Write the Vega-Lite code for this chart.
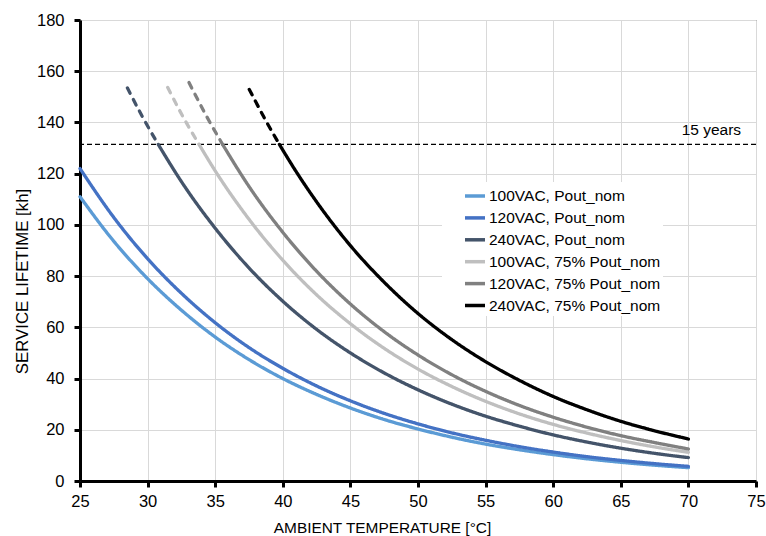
{
  "$schema": "https://vega.github.io/schema/vega-lite/v6.json",
  "width": 676,
  "height": 461,
  "autosize": {"type": "none"},
  "padding": {"left": 80, "top": 20, "right": 10, "bottom": 55},
  "background": "white",
  "config": {
    "font": "Liberation Sans",
    "view": {"stroke": "#404040", "strokeWidth": 1},
    "axis": {
      "domainColor": "black",
      "domainWidth": 3,
      "tickColor": "black",
      "tickWidth": 3,
      "tickSize": 6,
      "labelFlush": false,
      "labelFont": "Liberation Sans",
      "labelFontSize": 16.5,
      "labelColor": "black",
      "gridColor": "#d9d9d9",
      "gridWidth": 1,
      "titleFont": "Liberation Sans",
      "titleFontWeight": "normal",
      "titleColor": "black"
    }
  },
  "datasets": {
    "curves": [
      {"s": "100VAC, Pout_nom", "p": "solid", "t": 25, "v": 111},
      {"s": "100VAC, Pout_nom", "p": "solid", "t": 27.5, "v": 93.6},
      {"s": "100VAC, Pout_nom", "p": "solid", "t": 30, "v": 79.0},
      {"s": "100VAC, Pout_nom", "p": "solid", "t": 32.5, "v": 66.7},
      {"s": "100VAC, Pout_nom", "p": "solid", "t": 35, "v": 56.2},
      {"s": "100VAC, Pout_nom", "p": "solid", "t": 37.5, "v": 47.4},
      {"s": "100VAC, Pout_nom", "p": "solid", "t": 40, "v": 40.0},
      {"s": "100VAC, Pout_nom", "p": "solid", "t": 42.5, "v": 33.8},
      {"s": "100VAC, Pout_nom", "p": "solid", "t": 45, "v": 28.5},
      {"s": "100VAC, Pout_nom", "p": "solid", "t": 47.5, "v": 24.0},
      {"s": "100VAC, Pout_nom", "p": "solid", "t": 50, "v": 20.3},
      {"s": "100VAC, Pout_nom", "p": "solid", "t": 52.5, "v": 17.1},
      {"s": "100VAC, Pout_nom", "p": "solid", "t": 55, "v": 14.4},
      {"s": "100VAC, Pout_nom", "p": "solid", "t": 57.5, "v": 12.2},
      {"s": "100VAC, Pout_nom", "p": "solid", "t": 60, "v": 10.3},
      {"s": "100VAC, Pout_nom", "p": "solid", "t": 62.5, "v": 8.67},
      {"s": "100VAC, Pout_nom", "p": "solid", "t": 65, "v": 7.31},
      {"s": "100VAC, Pout_nom", "p": "solid", "t": 67.5, "v": 6.17},
      {"s": "100VAC, Pout_nom", "p": "solid", "t": 70, "v": 5.2},

      {"s": "120VAC, Pout_nom", "p": "solid", "t": 25, "v": 122},
      {"s": "120VAC, Pout_nom", "p": "solid", "t": 27.5, "v": 102.9},
      {"s": "120VAC, Pout_nom", "p": "solid", "t": 30, "v": 86.8},
      {"s": "120VAC, Pout_nom", "p": "solid", "t": 32.5, "v": 73.3},
      {"s": "120VAC, Pout_nom", "p": "solid", "t": 35, "v": 61.8},
      {"s": "120VAC, Pout_nom", "p": "solid", "t": 37.5, "v": 52.1},
      {"s": "120VAC, Pout_nom", "p": "solid", "t": 40, "v": 44.0},
      {"s": "120VAC, Pout_nom", "p": "solid", "t": 42.5, "v": 37.1},
      {"s": "120VAC, Pout_nom", "p": "solid", "t": 45, "v": 31.3},
      {"s": "120VAC, Pout_nom", "p": "solid", "t": 47.5, "v": 26.4},
      {"s": "120VAC, Pout_nom", "p": "solid", "t": 50, "v": 22.3},
      {"s": "120VAC, Pout_nom", "p": "solid", "t": 52.5, "v": 18.8},
      {"s": "120VAC, Pout_nom", "p": "solid", "t": 55, "v": 15.9},
      {"s": "120VAC, Pout_nom", "p": "solid", "t": 57.5, "v": 13.4},
      {"s": "120VAC, Pout_nom", "p": "solid", "t": 60, "v": 11.3},
      {"s": "120VAC, Pout_nom", "p": "solid", "t": 62.5, "v": 9.5},
      {"s": "120VAC, Pout_nom", "p": "solid", "t": 65, "v": 8.04},
      {"s": "120VAC, Pout_nom", "p": "solid", "t": 67.5, "v": 6.78},
      {"s": "120VAC, Pout_nom", "p": "solid", "t": 70, "v": 5.72},

      {"s": "240VAC, Pout_nom", "p": "dashed", "t": 28.5, "v": 153.5},
      {"s": "240VAC, Pout_nom", "p": "dashed", "t": 29.6, "v": 142.4},
      {"s": "240VAC, Pout_nom", "p": "dashed", "t": 30.79, "v": 131.4},
      {"s": "240VAC, Pout_nom", "p": "solid", "t": 30.79, "v": 131.4},
      {"s": "240VAC, Pout_nom", "p": "solid", "t": 32.5, "v": 116.9},
      {"s": "240VAC, Pout_nom", "p": "solid", "t": 35, "v": 98.7},
      {"s": "240VAC, Pout_nom", "p": "solid", "t": 37.5, "v": 83.2},
      {"s": "240VAC, Pout_nom", "p": "solid", "t": 40, "v": 70.2},
      {"s": "240VAC, Pout_nom", "p": "solid", "t": 42.5, "v": 59.2},
      {"s": "240VAC, Pout_nom", "p": "solid", "t": 45, "v": 50.0},
      {"s": "240VAC, Pout_nom", "p": "solid", "t": 47.5, "v": 42.2},
      {"s": "240VAC, Pout_nom", "p": "solid", "t": 50, "v": 35.6},
      {"s": "240VAC, Pout_nom", "p": "solid", "t": 52.5, "v": 30.0},
      {"s": "240VAC, Pout_nom", "p": "solid", "t": 55, "v": 25.3},
      {"s": "240VAC, Pout_nom", "p": "solid", "t": 57.5, "v": 21.4},
      {"s": "240VAC, Pout_nom", "p": "solid", "t": 60, "v": 18.0},
      {"s": "240VAC, Pout_nom", "p": "solid", "t": 62.5, "v": 15.2},
      {"s": "240VAC, Pout_nom", "p": "solid", "t": 65, "v": 12.8},
      {"s": "240VAC, Pout_nom", "p": "solid", "t": 67.5, "v": 10.8},
      {"s": "240VAC, Pout_nom", "p": "solid", "t": 70, "v": 9.13},

      {"s": "100VAC, 75% Pout_nom", "p": "dashed", "t": 31.48, "v": 153.7},
      {"s": "100VAC, 75% Pout_nom", "p": "dashed", "t": 32.6, "v": 142.4},
      {"s": "100VAC, 75% Pout_nom", "p": "dashed", "t": 33.81, "v": 131.4},
      {"s": "100VAC, 75% Pout_nom", "p": "solid", "t": 33.81, "v": 131.4},
      {"s": "100VAC, 75% Pout_nom", "p": "solid", "t": 35, "v": 121.1},
      {"s": "100VAC, 75% Pout_nom", "p": "solid", "t": 37.5, "v": 102.2},
      {"s": "100VAC, 75% Pout_nom", "p": "solid", "t": 40, "v": 86.2},
      {"s": "100VAC, 75% Pout_nom", "p": "solid", "t": 42.5, "v": 72.7},
      {"s": "100VAC, 75% Pout_nom", "p": "solid", "t": 45, "v": 61.4},
      {"s": "100VAC, 75% Pout_nom", "p": "solid", "t": 47.5, "v": 51.8},
      {"s": "100VAC, 75% Pout_nom", "p": "solid", "t": 50, "v": 43.7},
      {"s": "100VAC, 75% Pout_nom", "p": "solid", "t": 52.5, "v": 36.9},
      {"s": "100VAC, 75% Pout_nom", "p": "solid", "t": 55, "v": 31.1},
      {"s": "100VAC, 75% Pout_nom", "p": "solid", "t": 57.5, "v": 26.2},
      {"s": "100VAC, 75% Pout_nom", "p": "solid", "t": 60, "v": 22.1},
      {"s": "100VAC, 75% Pout_nom", "p": "solid", "t": 62.5, "v": 18.7},
      {"s": "100VAC, 75% Pout_nom", "p": "solid", "t": 65, "v": 15.8},
      {"s": "100VAC, 75% Pout_nom", "p": "solid", "t": 67.5, "v": 13.3},
      {"s": "100VAC, 75% Pout_nom", "p": "solid", "t": 70, "v": 11.2},

      {"s": "120VAC, 75% Pout_nom", "p": "dashed", "t": 33.06, "v": 155.6},
      {"s": "120VAC, 75% Pout_nom", "p": "dashed", "t": 34.3, "v": 143.0},
      {"s": "120VAC, 75% Pout_nom", "p": "dashed", "t": 35.55, "v": 131.4},
      {"s": "120VAC, 75% Pout_nom", "p": "solid", "t": 35.55, "v": 131.4},
      {"s": "120VAC, 75% Pout_nom", "p": "solid", "t": 37.5, "v": 115.0},
      {"s": "120VAC, 75% Pout_nom", "p": "solid", "t": 40, "v": 97.1},
      {"s": "120VAC, 75% Pout_nom", "p": "solid", "t": 42.5, "v": 81.9},
      {"s": "120VAC, 75% Pout_nom", "p": "solid", "t": 45, "v": 69.1},
      {"s": "120VAC, 75% Pout_nom", "p": "solid", "t": 47.5, "v": 58.3},
      {"s": "120VAC, 75% Pout_nom", "p": "solid", "t": 50, "v": 49.2},
      {"s": "120VAC, 75% Pout_nom", "p": "solid", "t": 52.5, "v": 41.5},
      {"s": "120VAC, 75% Pout_nom", "p": "solid", "t": 55, "v": 35.0},
      {"s": "120VAC, 75% Pout_nom", "p": "solid", "t": 57.5, "v": 29.5},
      {"s": "120VAC, 75% Pout_nom", "p": "solid", "t": 60, "v": 24.9},
      {"s": "120VAC, 75% Pout_nom", "p": "solid", "t": 62.5, "v": 21.0},
      {"s": "120VAC, 75% Pout_nom", "p": "solid", "t": 65, "v": 17.7},
      {"s": "120VAC, 75% Pout_nom", "p": "solid", "t": 67.5, "v": 15.0},
      {"s": "120VAC, 75% Pout_nom", "p": "solid", "t": 70, "v": 12.5},

      {"s": "240VAC, 75% Pout_nom", "p": "dashed", "t": 37.52, "v": 152.9},
      {"s": "240VAC, 75% Pout_nom", "p": "dashed", "t": 38.6, "v": 142.1},
      {"s": "240VAC, 75% Pout_nom", "p": "dashed", "t": 39.75, "v": 131.4},
      {"s": "240VAC, 75% Pout_nom", "p": "solid", "t": 39.75, "v": 131.4},
      {"s": "240VAC, 75% Pout_nom", "p": "solid", "t": 41, "v": 120.7},
      {"s": "240VAC, 75% Pout_nom", "p": "solid", "t": 42.5, "v": 109.0},
      {"s": "240VAC, 75% Pout_nom", "p": "solid", "t": 45, "v": 91.9},
      {"s": "240VAC, 75% Pout_nom", "p": "solid", "t": 47.5, "v": 77.6},
      {"s": "240VAC, 75% Pout_nom", "p": "solid", "t": 50, "v": 65.4},
      {"s": "240VAC, 75% Pout_nom", "p": "solid", "t": 52.5, "v": 55.2},
      {"s": "240VAC, 75% Pout_nom", "p": "solid", "t": 55, "v": 46.6},
      {"s": "240VAC, 75% Pout_nom", "p": "solid", "t": 57.5, "v": 39.3},
      {"s": "240VAC, 75% Pout_nom", "p": "solid", "t": 60, "v": 33.0},
      {"s": "240VAC, 75% Pout_nom", "p": "solid", "t": 62.5, "v": 27.8},
      {"s": "240VAC, 75% Pout_nom", "p": "solid", "t": 65, "v": 23.3},
      {"s": "240VAC, 75% Pout_nom", "p": "solid", "t": 67.5, "v": 19.6},
      {"s": "240VAC, 75% Pout_nom", "p": "solid", "t": 70, "v": 16.4}
    ],
    "ref": [
      {"label": "15 years", "t": 73.9, "v": 131.4}
    ]
  },
  "layer": [
    {
      "data": {"name": "ref"},
      "mark": {"type": "rule", "color": "black", "strokeWidth": 1.2, "strokeDash": [5, 3]},
      "encoding": {
        "y": {"field": "v", "type": "quantitative", "scale": {"domain": [0, 180], "nice": false}}
      }
    },
    {
      "data": {"name": "curves"},
      "mark": {"type": "line", "strokeWidth": 3.3, "interpolate": "monotone", "strokeCap": "round"},
      "encoding": {
        "x": {
          "field": "t", "type": "quantitative",
          "scale": {"domain": [25, 75], "nice": false, "zero": false},
          "axis": {
            "values": [25, 30, 35, 40, 45, 50, 55, 60, 65, 70, 75],
            "labelPadding": 6,
            "title": "AMBIENT TEMPERATURE [°C]",
            "titleFontSize": 15.4,
            "titleX": 302,
            "titleY": 51,
            "titleBaseline": "alphabetic",
            "titleAnchor": "middle"
          }
        },
        "y": {
          "field": "v", "type": "quantitative",
          "scale": {"domain": [0, 180], "nice": false},
          "axis": {
            "values": [0, 20, 40, 60, 80, 100, 120, 140, 160, 180],
            "labelPadding": 10,
            "title": "SERVICE LIFETIME [kh]",
            "titleFontSize": 16.8,
            "titleX": -58,
            "titleY": 261,
            "titleBaseline": "middle",
            "titleAngle": -90,
            "titleAnchor": "middle"
          }
        },
        "color": {
          "field": "s", "type": "nominal",
          "scale": {
            "domain": ["100VAC, Pout_nom", "120VAC, Pout_nom", "240VAC, Pout_nom", "100VAC, 75% Pout_nom", "120VAC, 75% Pout_nom", "240VAC, 75% Pout_nom"],
            "range": ["#5B9BD5", "#4472C4", "#44546A", "#BFBFBF", "#808080", "#000000"]
          },
          "legend": {
            "title": null,
            "orient": "none",
            "legendX": 362,
            "legendY": 162,
            "padding": 2,
            "fillColor": "white",
            "symbolType": "stroke",
            "symbolSize": 400,
            "symbolStrokeWidth": 3.5,
            "symbolOffset": 19,
            "labelOffset": 2,
            "labelFontSize": 15.5,
            "labelColor": "black",
            "labelLimit": 300,
            "rowPadding": 0.9
          }
        },
        "strokeDash": {
          "field": "p", "type": "nominal",
          "scale": {"domain": ["solid", "dashed"], "range": [[1, 0], [6, 7]]},
          "legend": null
        }
      }
    },
    {
      "data": {"name": "ref"},
      "mark": {"type": "text", "align": "right", "baseline": "alphabetic", "dy": -9, "fontSize": 15.5, "color": "black"},
      "encoding": {
        "x": {"field": "t", "type": "quantitative"},
        "y": {"field": "v", "type": "quantitative"},
        "text": {"field": "label"}
      }
    }
  ]
}
